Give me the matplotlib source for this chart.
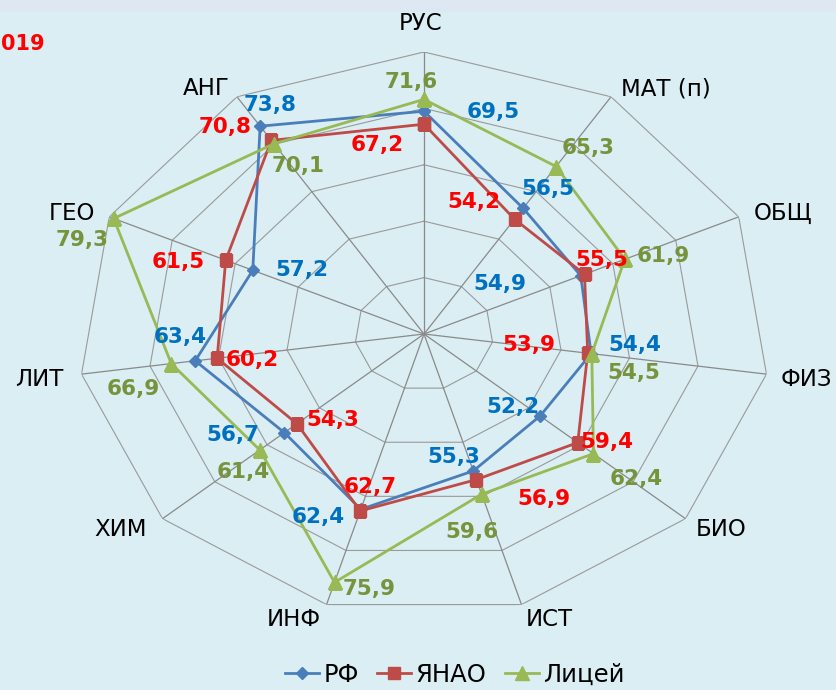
import numpy as np
import matplotlib
matplotlib.use("Agg")
import matplotlib.pyplot as plt
from matplotlib.patches import Rectangle

# ---- data ----
categories = ["РУС", "МАТ (п)", "ОБЩ", "ФИЗ", "БИО", "ИСТ", "ИНФ", "ХИМ", "ЛИТ", "ГЕО", "АНГ"]
rf = [69.5, 56.5, 54.9, 54.4, 52.2, 55.3, 62.4, 56.7, 63.4, 57.2, 73.8]
yanao = [67.2, 54.2, 55.5, 53.9, 59.4, 56.9, 62.7, 54.3, 60.2, 61.5, 70.8]
licey = [71.6, 65.3, 61.9, 54.5, 62.4, 59.6, 75.9, 61.4, 66.9, 79.3, 70.1]
series_names = ["РФ", "ЯНАО", "Лицей"]
r_min, r_max, r_step = 30, 80, 10

# ---- label layout (pixel offsets, image coords: +x right, +y down) ----
off_rf = [(69, -1), (25, -21), (-81, 6), (44, -11), (-27, -11), (-20, -16),
          (-43, 6), (-51, 0), (-15, -26), (49, -2), (10, -23)]
off_yanao = [(-47, 19), (-41, -19), (17, -16), (-59, -10), (29, -3), (67, 17),
             (10, -26), (36, -6), (35, 0), (-48, 0), (-46, -15)]
off_licey = [(-13, -19), (32, -21), (38, -5), (42, 17), (43, 23), (-10, 36),
             (35, 5), (-17, 20), (-38, 23), (-32, 20), (24, 20)]
off_cat = [(-3, -30), (55, -10), (44, -5), (40, 3), (36, 9), (28, 13),
           (-33, 13), (-42, 9), (-42, 3), (-37, -5), (-31, -10)]

bg = "#DAEEF3"
fig = plt.figure(figsize=(8.37, 6.9), dpi=100, facecolor=bg)
fig.patches.append(Rectangle((0, 1 - 12 / 690), 1, 12 / 690, transform=fig.transFigure,
                             facecolor="#DEE8F2", edgecolor="none", zorder=0))

ax = fig.add_axes([78 / 837, 74 / 690, 692 / 837, 564 / 690], projection="polar")
ax.set_aspect("auto")
ax.patch.set_visible(False)
ax.set_theta_zero_location("N")
ax.set_theta_direction(-1)
ax.set_ylim(r_min, r_max)

n = len(categories)
theta = np.arange(n) * 2 * np.pi / n
theta_c = np.append(theta, theta[0])

ax.set_thetagrids(np.degrees(theta), labels=[""] * n)
ax.set_rgrids(np.arange(r_min + r_step, r_max + 1, r_step), labels=[""] * 5)
ax.yaxis.grid(False)
ax.xaxis.grid(True, color="#8A8A8A", lw=0.9)
ax.spines["polar"].set_visible(False)
ax.tick_params(length=0)

for r in np.arange(r_min + r_step, r_max + 1, r_step):
    ax.plot(theta_c, [r] * (n + 1), color="#9A9A9A", lw=0.8, zorder=1)

styles = [
    dict(color="#4A7EBB", marker="D", ms=6.5, lab="#0070C0", offs=off_rf, data=rf),
    dict(color="#BE4B48", marker="s", ms=8.5, lab="#FF0000", offs=off_yanao, data=yanao),
    dict(color="#98B954", marker="^", ms=9.5, lab="#77933C", offs=off_licey, data=licey),
]

handles = []
for name, st in zip(series_names, styles):
    vals = st["data"]
    h, = ax.plot(theta_c, np.append(vals, vals[0]), color=st["color"], lw=2.0,
                 marker=st["marker"], ms=st["ms"], mec=st["color"], mfc=st["color"],
                 label=name, zorder=3)
    handles.append(h)
    for i, v in enumerate(vals):
        dx, dy = st["offs"][i]
        ax.annotate(f"{v:.1f}".replace(".", ","), xy=(theta[i], v),
                    xytext=(dx, -dy - 2), textcoords="offset pixels",
                    ha="center", va="center", fontsize=15.5, fontweight="bold",
                    color=st["lab"], zorder=5, annotation_clip=False)

for i, c in enumerate(categories):
    dx, dy = off_cat[i]
    ax.annotate(c, xy=(theta[i], r_max), xytext=(dx, -dy - 2), textcoords="offset pixels",
                ha="center", va="center", fontsize=16.5, color="black",
                annotation_clip=False)

fig.text(0.5 / 837, 1 - 44 / 690, "019", ha="left", va="center", color="#FF0000",
         fontsize=15, fontweight="bold")

fig.legend(handles=handles, loc="center", bbox_to_anchor=(455 / 837, 1 - 675 / 690),
           ncol=3, frameon=False, fontsize=17.5, handlelength=1.4, handletextpad=0.18,
           columnspacing=0.75, borderaxespad=0, borderpad=0)

fig.savefig("out.png", dpi=100, facecolor=bg)
